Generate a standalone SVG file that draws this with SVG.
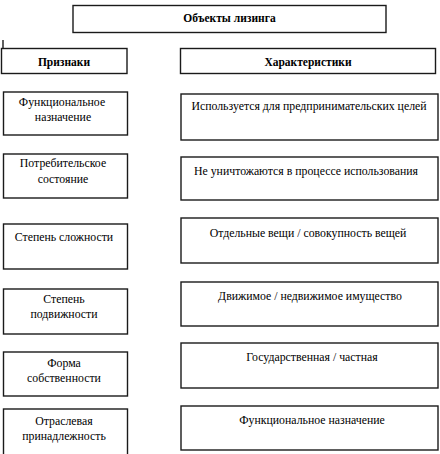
<svg xmlns="http://www.w3.org/2000/svg" width="440" height="454" viewBox="0 0 440 454">
<style>
.b{fill:#fff;stroke:#1a1a1a;stroke-width:1.4}
text{font-family:'Liberation Serif','DejaVu Serif',serif;font-size:11.8px;fill:#000;text-anchor:middle}
.h{font-weight:bold;font-size:11.5px}
</style>
<rect width="440" height="454" fill="#fff"/>
<g id="connectors">
<line x1="3" y1="40" x2="3" y2="49" stroke="#1a1a1a" stroke-width="1.4"/>
</g>
<g id="title"><rect class="b" x="73" y="5.5" width="313" height="27"/><text class="h" x="229.5" y="22">Объекты лизинга</text></g>
<g id="priznaki"><rect class="b" x="1.5" y="48.5" width="125.5" height="25"/><text class="h" x="64" y="66">Признаки</text></g>
<g id="harakteristiki"><rect class="b" x="180.5" y="48.5" width="255" height="25"/><text class="h" x="308" y="66">Характеристики</text></g>

<g id="l1"><rect class="b" x="3.5" y="92" width="124" height="43"/><text x="62" y="106">Функциональное</text><text x="63" y="121">назначение</text></g>
<g id="l2"><rect class="b" x="3.5" y="154" width="124" height="44"/><text x="63" y="167">Потребительское</text><text x="63" y="183">состояние</text></g>
<g id="l3"><rect class="b" x="3.5" y="224" width="124" height="45"/><text x="64" y="241">Степень сложности</text></g>
<g id="l4"><rect class="b" x="3.5" y="289" width="124" height="45"/><text x="64" y="303">Степень</text><text x="64" y="318">подвижности</text></g>
<g id="l5"><rect class="b" x="3.5" y="352" width="124" height="44"/><text x="64" y="367">Форма</text><text x="64" y="382">собственности</text></g>
<g id="l6"><rect class="b" x="3.5" y="409" width="124" height="50"/><text x="64" y="425">Отраслевая</text><text x="64" y="440">принадлежность</text></g>

<g id="r1"><rect class="b" x="181" y="94" width="257" height="46"/><text x="309" y="110">Используется для предпринимательских целей</text></g>
<g id="r2"><rect class="b" x="181" y="157" width="257" height="43"/><text x="306" y="175">Не уничтожаются в процессе использования</text></g>
<g id="r3"><rect class="b" x="181" y="218" width="257" height="45"/><text x="308" y="237">Отдельные вещи / совокупность вещей</text></g>
<g id="r4"><rect class="b" x="181" y="282" width="257" height="44"/><text x="310" y="300">Движимое / недвижимое имущество</text></g>
<g id="r5"><rect class="b" x="181" y="343" width="257" height="45"/><text x="312" y="361">Государственная / частная</text></g>
<g id="r6"><rect class="b" x="181" y="406" width="257" height="44"/><text x="312" y="424">Функциональное назначение</text></g>
</svg>
